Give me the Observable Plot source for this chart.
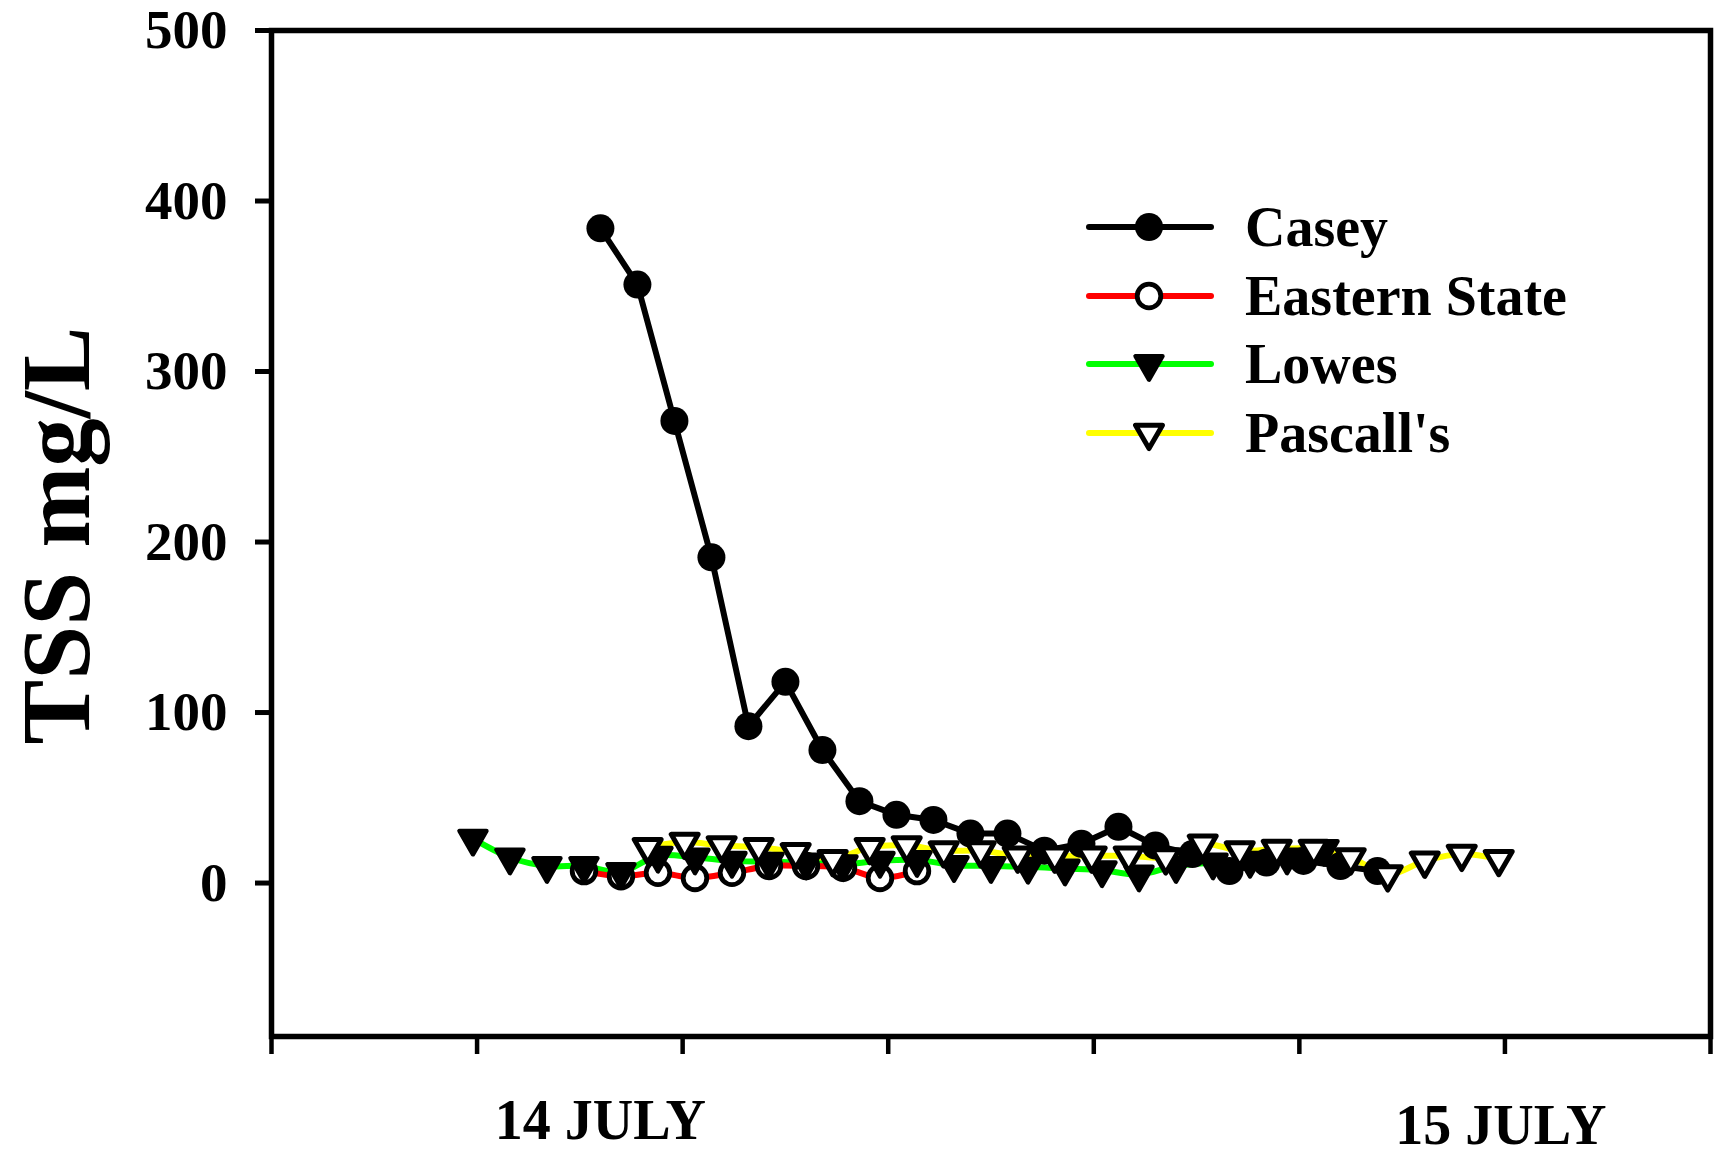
<!DOCTYPE html>
<html>
<head>
<meta charset="utf-8">
<script src="https://cdn.jsdelivr.net/npm/d3@7"></script>
<script src="https://cdn.jsdelivr.net/npm/@observablehq/plot@0.6"></script>
<style>
  html, body { margin: 0; padding: 0; background: #fff; overflow: hidden; }
  #wrap { position: relative; width: 1715px; height: 1153px; }
  #legend { position: absolute; left: 1086px; top: 193px; font-family: 'Liberation Serif', 'Times New Roman', serif; font-weight: bold; font-size: 56px; color: #000; }
  .row { display: flex; align-items: center; height: 68.6px; }
  .row svg { display: block; flex: none; }
  .row span { margin-left: 31px; line-height: 68.6px; white-space: nowrap; }
</style>
</head>
<body>
<div id="wrap"><div id="legend"></div></div>
<script>
// ---- data (x in axis-tick units of time, y in TSS mg/L) ----
const seriesNames = ["Casey", "Eastern State", "Lowes", "Pascall's"];

const caseyT   = [1.60, 1.78, 1.96, 2.14, 2.32, 2.50, 2.68, 2.86, 3.04, 3.22, 3.40, 3.58, 3.76, 3.94, 4.12, 4.30, 4.48, 4.66, 4.84, 5.02, 5.20, 5.38];
const caseyTSS = [384, 351, 271, 191, 92, 118, 78, 48, 40, 37, 29, 29, 19, 23, 33, 22, 17, 7, 12, 13, 10, 7];

const easternT   = [1.52, 1.70, 1.88, 2.06, 2.24, 2.42, 2.60, 2.78, 2.96, 3.14];
const easternTSS = [7, 4, 6, 3, 6, 10, 10, 9, 3, 7];

const lowesT   = [0.98, 1.16, 1.34, 1.52, 1.70, 1.88, 2.06, 2.24, 2.42, 2.60, 2.78, 2.96, 3.14, 3.32, 3.50, 3.68, 3.86, 4.04, 4.22, 4.40, 4.58, 4.76, 4.94, 5.12];
const lowesTSS = [26, 15, 10, 10, 6.5, 16, 15, 13, 12.5, 12, 11, 13, 13.5, 10.5, 10, 9.5, 8.5, 7.5, 5, 10, 12, 13, 15, 20];

const pascallT   = [1.83, 2.01, 2.19, 2.37, 2.55, 2.73, 2.91, 3.09, 3.27, 3.45, 3.63, 3.81, 3.99, 4.17, 4.35, 4.53, 4.71, 4.89, 5.07, 5.25, 5.43, 5.61, 5.79, 5.97];
const pascallTSS = [21, 24, 22, 21, 18, 14, 21, 22, 19, 19, 16, 16, 16, 16, 15, 23, 19, 20, 20, 15, 5, 13, 17, 14];

const xTicks = [0, 1, 2, 3, 4, 5, 6, 7];
const yTicks = [0, 100, 200, 300, 400, 500];
const dayLabels = ["14 JULY", "15 JULY"];
const dayTicks = [1.60, 5.98];
const yTitle = "TSS mg/L";

// ---- build rows ----
const rows = (t, v) => t.map((x, i) => ({x, y: v[i]}));
const casey = rows(caseyT, caseyTSS);
const eastern = rows(easternT, easternTSS);
const lowes = rows(lowesT, lowesTSS);
const pascall = rows(pascallT, pascallTSS);

const FONT = "'Liberation Serif', 'Times New Roman', serif";
const LW = 6;
const TRI_R = 10;

const chart = Plot.plot({
  width: 1715,
  height: 1153,
  marginLeft: 271,
  marginRight: 5,
  marginTop: 30,
  marginBottom: 117,
  style: {fontFamily: FONT, fontWeight: "bold", color: "black", background: "white", overflow: "visible"},
  x: {domain: [0, 7], label: null},
  y: {domain: [-90, 500], label: null},
  marks: [
    Plot.axisY({ticks: yTicks, tickSize: 16, tickPadding: 28, fontSize: 55, strokeWidth: 5, label: null, tickFormat: d => String(d)}),
    Plot.axisX({ticks: xTicks, tickSize: 18, tickPadding: 0, strokeWidth: 4.5, label: null, tickFormat: () => ""}),
    Plot.axisX({ticks: [dayTicks[0]], tickSize: 0, tickPadding: 63, fontSize: 56, label: null, tickFormat: () => dayLabels[0]}),
    Plot.axisX({ticks: [dayTicks[1]], tickSize: 0, tickPadding: 68, fontSize: 56, label: null, tickFormat: () => dayLabels[1]}),
    Plot.frame({stroke: "black", strokeWidth: 5.5}),
    Plot.text([yTitle], {text: d => d, frameAnchor: "left", textAnchor: "middle", rotate: -90, dx: -214, dy: 2, lineAnchor: "middle", fontSize: 97, fontWeight: "bold", fill: "black"}),
    // lines
    Plot.line(pascall, {x: "x", y: "y", stroke: "#ffff00", strokeWidth: LW, curve: "catmull-rom"}),
    Plot.line(lowes, {x: "x", y: "y", stroke: "#00ff00", strokeWidth: LW, curve: "catmull-rom"}),
    Plot.line(eastern, {x: "x", y: "y", stroke: "#ff0000", strokeWidth: LW, curve: "catmull-rom"}),
    Plot.line(casey, {x: "x", y: "y", stroke: "black", strokeWidth: LW}),
    // symbols
    Plot.dot(casey, {x: "x", y: "y", r: 14, fill: "black", stroke: "none"}),
    Plot.dot(eastern, {x: "x", y: "y", r: 11.8, fill: "white", stroke: "black", strokeWidth: 4.8}),
    Plot.dot(lowes, {x: "x", y: "y", symbol: "triangle", rotate: 180, r: TRI_R, fill: "black", stroke: "black", strokeWidth: 4.5, strokeLinejoin: "round"}),
    Plot.dot(pascall, {x: "x", y: "y", symbol: "triangle", rotate: 180, r: TRI_R, fill: "white", stroke: "black", strokeWidth: 5, strokeLinejoin: "round"})
  ]
});
document.getElementById("wrap").prepend(chart);

// ---- legend ----
const legendSpec = [
  {name: seriesNames[0], color: "black",   symbol: "circle",   fill: "black", r: 14,    sw: 0},
  {name: seriesNames[1], color: "#ff0000", symbol: "circle",   fill: "white", r: 11.8,  sw: 4.8},
  {name: seriesNames[2], color: "#00ff00", symbol: "triangle", fill: "black", r: TRI_R, sw: 4.5},
  {name: seriesNames[3], color: "#ffff00", symbol: "triangle", fill: "white", r: TRI_R, sw: 5}
];
const legend = d3.select("#legend");
for (const s of legendSpec) {
  const row = legend.append("div").attr("class", "row");
  const svg = row.append("svg").attr("width", 128).attr("height", 40);
  svg.append("line").attr("x1", 3).attr("x2", 125).attr("y1", 20).attr("y2", 20)
    .attr("stroke", s.color).attr("stroke-width", LW).attr("stroke-linecap", "round");
  const type = s.symbol === "circle" ? d3.symbolCircle : d3.symbolTriangle;
  svg.append("path").attr("d", d3.symbol(type, Math.PI * s.r * s.r)())
    .attr("transform", `translate(63,20)` + (s.symbol === "triangle" ? " rotate(180)" : ""))
    .attr("fill", s.fill).attr("stroke", s.sw ? "black" : "none").attr("stroke-width", s.sw)
    .attr("stroke-linejoin", "round");
  row.append("span").text(s.name);
}
</script>
</body>
</html>
